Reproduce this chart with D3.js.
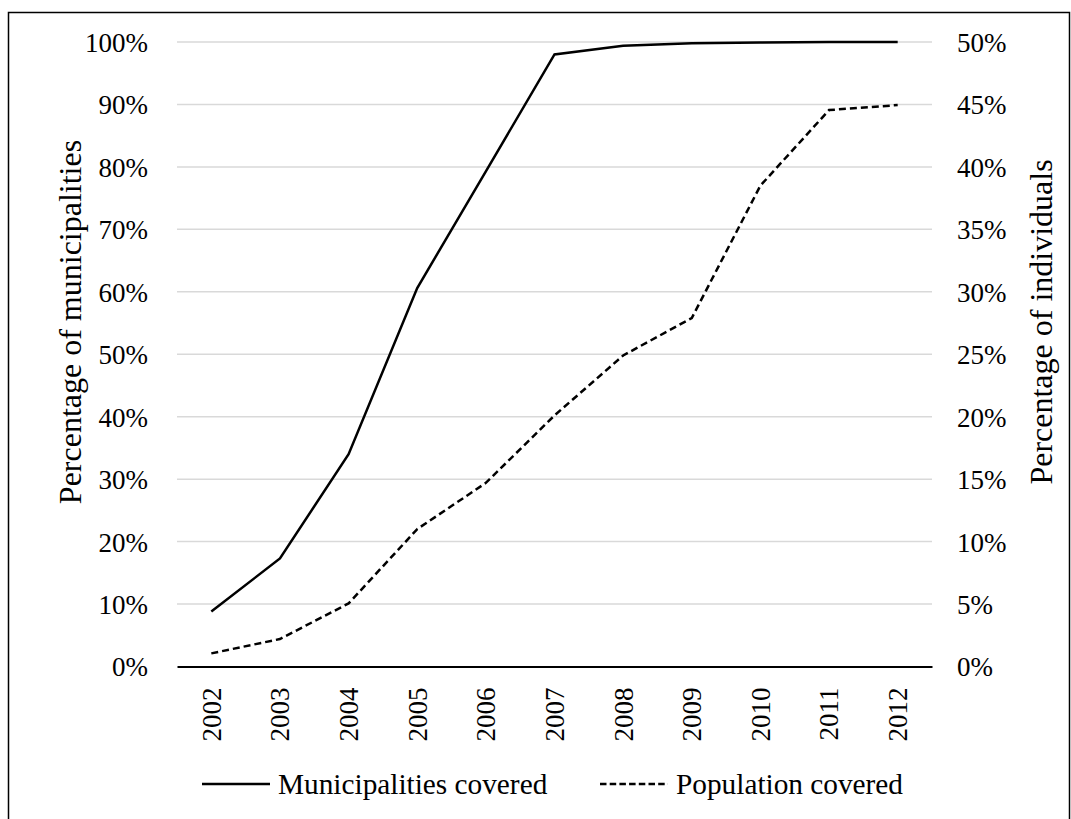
<!DOCTYPE html>
<html>
<head>
<meta charset="utf-8">
<script src="https://cdn.jsdelivr.net/npm/d3@7"></script>
<style>
  body { margin: 0; background: #fff; }
  text { font-family: "Liberation Serif", "Times New Roman", serif; fill: #000; }
</style>
</head>
<body>
<div id="chart"></div>
<script>
// data
var years = ["2002", "2003", "2004", "2005", "2006", "2007", "2008", "2009", "2010", "2011", "2012"];
var municipalities = [8.8, 17.3, 34.0, 60.6, 79.3, 98.0, 99.4, 99.8, 99.9, 100, 100];   // left axis, %
var population = [1.05, 2.2, 5.05, 11.0, 14.7, 20.1, 24.9, 27.9, 38.5, 44.55, 44.95]; // right axis, %
var leftTicks = [0, 10, 20, 30, 40, 50, 60, 70, 80, 90, 100];
var rightTicks = [0, 5, 10, 15, 20, 25, 30, 35, 40, 45, 50];
var seriesNames = ["Municipalities covered", "Population covered"];

var W = 1071, H = 819;
var plot = { left: 177, right: 932, top: 42, bottom: 666.5 };
var fs = 27;

var svg = d3.select("#chart").append("svg").attr("width", W).attr("height", H);

// outer chart border (bottom edge falls outside the picture)
svg.append("rect")
  .attr("x", 8.5).attr("y", 12.5).attr("width", 1061).attr("height", H + 10)
  .attr("fill", "none").attr("stroke", "#000").attr("stroke-width", 1.5);

var x = d3.scaleBand().domain(years).range([plot.left, plot.right]).padding(0);
var yL = d3.scaleLinear().domain([0, 100]).range([plot.bottom, plot.top]);
var yR = d3.scaleLinear().domain([0, 50]).range([plot.bottom, plot.top]);

// gridlines
svg.append("g").selectAll("line").data(leftTicks.filter(function (d) { return d > 0; })).enter().append("line")
  .attr("x1", plot.left).attr("x2", plot.right)
  .attr("y1", function (d) { return yL(d); }).attr("y2", function (d) { return yL(d); })
  .attr("stroke", "#d9d9d9").attr("stroke-width", 1.5);

// left axis labels
var gl = svg.append("g").attr("transform", "translate(148,0)")
  .call(d3.axisLeft(yL).tickValues(leftTicks).tickSize(0).tickPadding(0).tickFormat(function (d) { return d + "%"; }));
gl.select(".domain").remove();
gl.selectAll("text").attr("font-size", fs).attr("font-family", null).attr("dy", "0.35em");

// right axis labels
var gr = svg.append("g").attr("transform", "translate(957,0)")
  .call(d3.axisRight(yR).tickValues(rightTicks).tickSize(0).tickPadding(0).tickFormat(function (d) { return d + "%"; }));
gr.select(".domain").remove();
gr.selectAll("text").attr("font-size", fs).attr("font-family", null).attr("dy", "0.35em");

// bottom axis
var gx = svg.append("g").attr("transform", "translate(0," + plot.bottom + ")")
  .call(d3.axisBottom(x).tickSize(0).tickPadding(0));
gx.select(".domain").attr("stroke", "#000").attr("stroke-width", 1.8);
gx.selectAll("text")
  .attr("font-size", fs).attr("font-family", null)
  .attr("text-anchor", "end")
  .attr("transform", "translate(0,21) rotate(-90)")
  .attr("x", 0).attr("y", 0).attr("dy", "0.35em");

// axis titles
var titleY = 322;
svg.append("text")
  .attr("transform", "translate(70," + titleY + ") rotate(-90)")
  .attr("text-anchor", "middle").attr("dy", "0.35em").attr("font-size", 32)
  .text("Percentage of municipalities");
svg.append("text")
  .attr("transform", "translate(1041," + titleY + ") rotate(-90)")
  .attr("text-anchor", "middle").attr("dy", "0.35em").attr("font-size", 32)
  .text("Percentage of individuals");

// lines
var cx = function (d, i) { return x(years[i]) + x.bandwidth() / 2; };
var lineL = d3.line().x(cx).y(function (d) { return yL(d); });
var lineR = d3.line().x(cx).y(function (d) { return yR(d); });

svg.append("path").datum(municipalities)
  .attr("d", lineL).attr("fill", "none").attr("stroke", "#000").attr("stroke-width", 2.5);
svg.append("path").datum(population)
  .attr("d", lineR).attr("fill", "none").attr("stroke", "#000").attr("stroke-width", 2.5)
  .attr("stroke-dasharray", "7,4");

// legend
var legend = [
  { name: seriesNames[0], x: 202, dash: null },
  { name: seriesNames[1], x: 600, dash: "6.5,3.2" }
];
var lg = svg.append("g").selectAll("g").data(legend).enter().append("g")
  .attr("transform", function (d) { return "translate(" + d.x + ",784)"; });
lg.append("line").attr("x1", 0).attr("x2", 68).attr("y1", 0).attr("y2", 0)
  .attr("stroke", "#000").attr("stroke-width", 2.5)
  .attr("stroke-dasharray", function (d) { return d.dash; });
lg.append("text").attr("x", 76).attr("dy", "0.35em").attr("font-size", 29.3)
  .text(function (d) { return d.name; });
</script>
</body>
</html>
